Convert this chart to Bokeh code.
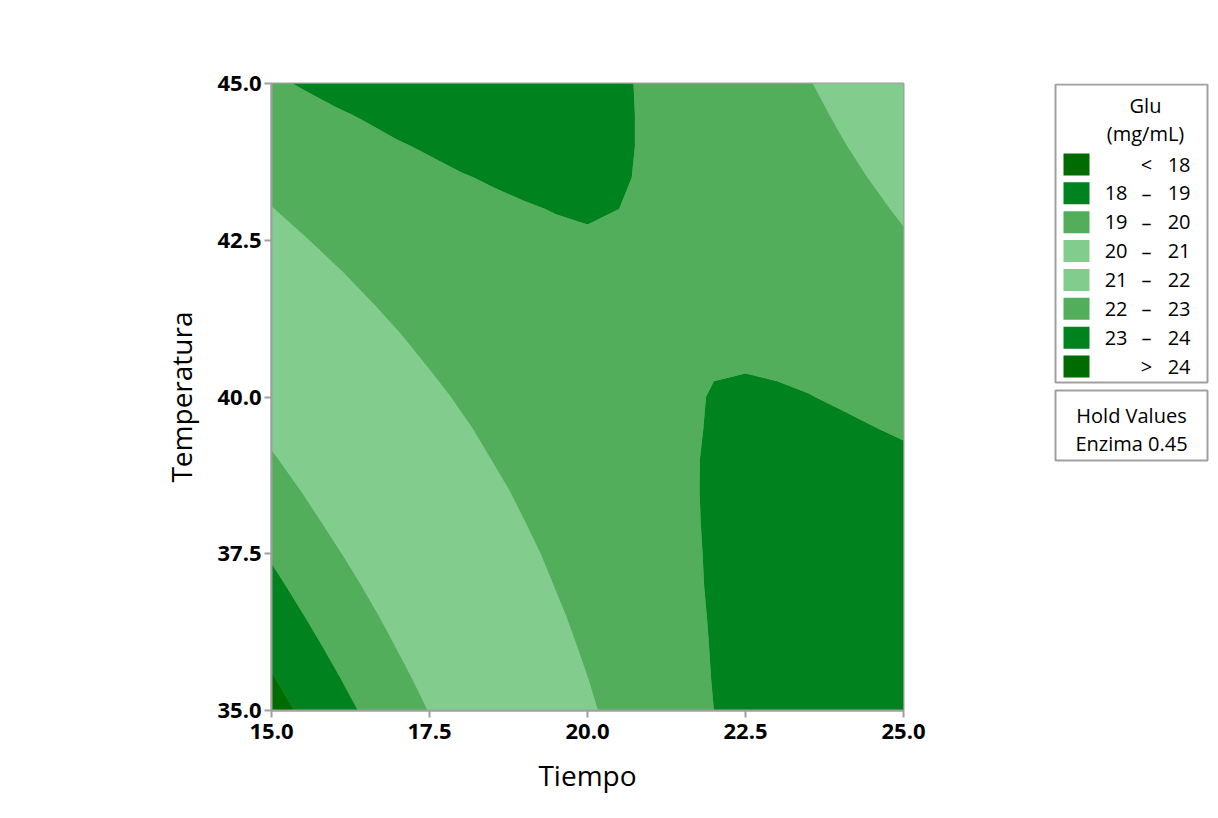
from bokeh.plotting import figure
from bokeh.layouts import row
from bokeh.models import Range1d, FixedTicker, NumeralTickFormatter
from bokeh.core.properties import value
from bokeh.embed import file_html
from bokeh.resources import INLINE

# ---------------- data ----------------
tiempo = [15.0, 15.5, 16.0, 16.5, 17.0, 17.5, 18.0, 18.5, 19.0, 19.5, 20.0,
          20.5, 21.0, 21.5, 22.0, 22.5, 23.0, 23.5, 24.0, 24.5, 25.0]
temperatura = [35.0, 35.5, 36.0, 36.5, 37.0, 37.5, 38.0, 38.5, 39.0, 39.5, 40.0,
               40.5, 41.0, 41.5, 42.0, 42.5, 43.0, 43.5, 44.0, 44.5, 45.0]
# Glu (mg/mL); one row per temperatura value, one column per tiempo value
glu = [
    [24.37, 23.85, 23.35, 22.87, 22.41, 21.97, 21.55, 21.16, 20.79, 20.43, 20.10, 19.80, 19.51, 19.24, 19.00, 18.78, 18.58, 18.40, 18.24, 18.10, 17.99],
    [24.07, 23.57, 23.09, 22.63, 22.19, 21.77, 21.37, 21.00, 20.65, 20.32, 20.01, 19.72, 19.45, 19.21, 18.98, 18.78, 18.60, 18.44, 18.30, 18.19, 18.09],
    [23.77, 23.29, 22.83, 22.39, 21.97, 21.57, 21.20, 20.84, 20.51, 20.20, 19.91, 19.64, 19.40, 19.17, 18.97, 18.79, 18.63, 18.49, 18.37, 18.27, 18.20],
    [23.48, 23.02, 22.58, 22.16, 21.76, 21.38, 21.03, 20.69, 20.38, 20.09, 19.82, 19.57, 19.35, 19.14, 18.96, 18.80, 18.66, 18.54, 18.44, 18.36, 18.31],
    [23.19, 22.75, 22.33, 21.93, 21.55, 21.19, 20.86, 20.55, 20.25, 19.98, 19.73, 19.51, 19.30, 19.11, 18.95, 18.81, 18.69, 18.59, 18.51, 18.46, 18.42],
    [22.91, 22.49, 22.08, 21.71, 21.35, 21.01, 20.70, 20.40, 20.13, 19.88, 19.65, 19.44, 19.26, 19.09, 18.95, 18.83, 18.73, 18.65, 18.59, 18.56, 18.54],
    [22.63, 22.22, 21.84, 21.48, 21.15, 20.83, 20.54, 20.26, 20.01, 19.78, 19.57, 19.38, 19.22, 19.07, 18.95, 18.85, 18.77, 18.71, 18.67, 18.66, 18.66],
    [22.35, 21.97, 21.61, 21.27, 20.95, 20.65, 20.38, 20.13, 19.89, 19.68, 19.49, 19.33, 19.18, 19.06, 18.95, 18.87, 18.81, 18.78, 18.76, 18.76, 18.79],
    [22.08, 21.71, 21.37, 21.05, 20.76, 20.48, 20.23, 19.99, 19.78, 19.59, 19.42, 19.28, 19.15, 19.05, 18.96, 18.90, 18.86, 18.84, 18.85, 18.87, 18.92],
    [21.81, 21.46, 21.14, 20.84, 20.57, 20.31, 20.08, 19.86, 19.67, 19.50, 19.35, 19.23, 19.12, 19.04, 18.98, 18.94, 18.92, 18.92, 18.94, 18.99, 19.05],
    [21.54, 21.22, 20.92, 20.64, 20.38, 20.15, 19.93, 19.74, 19.57, 19.42, 19.29, 19.18, 19.10, 19.03, 18.99, 18.97, 18.97, 18.99, 19.04, 19.10, 19.19],
    [21.28, 20.98, 20.70, 20.44, 20.20, 19.98, 19.79, 19.62, 19.47, 19.34, 19.23, 19.14, 19.08, 19.03, 19.01, 19.01, 19.03, 19.08, 19.14, 19.22, 19.33],
    [21.02, 20.74, 20.48, 20.24, 20.02, 19.83, 19.65, 19.50, 19.37, 19.26, 19.17, 19.11, 19.06, 19.04, 19.04, 19.06, 19.10, 19.16, 19.24, 19.35, 19.48],
    [20.76, 20.50, 20.26, 20.04, 19.85, 19.67, 19.52, 19.39, 19.28, 19.19, 19.12, 19.07, 19.05, 19.04, 19.06, 19.10, 19.16, 19.25, 19.35, 19.48, 19.62],
    [20.51, 20.27, 20.05, 19.85, 19.68, 19.52, 19.39, 19.28, 19.19, 19.12, 19.07, 19.04, 19.04, 19.06, 19.09, 19.15, 19.24, 19.34, 19.46, 19.61, 19.78],
    [20.26, 20.04, 19.84, 19.67, 19.51, 19.38, 19.26, 19.17, 19.10, 19.05, 19.02, 19.02, 19.03, 19.07, 19.13, 19.21, 19.31, 19.43, 19.58, 19.75, 19.93],
    [20.02, 19.82, 19.64, 19.48, 19.35, 19.23, 19.14, 19.07, 19.02, 18.99, 18.98, 19.00, 19.03, 19.09, 19.17, 19.27, 19.39, 19.53, 19.70, 19.88, 20.09],
    [19.78, 19.60, 19.44, 19.30, 19.19, 19.09, 19.02, 18.97, 18.94, 18.93, 18.94, 18.98, 19.03, 19.11, 19.21, 19.33, 19.47, 19.64, 19.82, 20.03, 20.26],
    [19.54, 19.38, 19.25, 19.13, 19.03, 18.96, 18.90, 18.87, 18.86, 18.88, 18.91, 18.96, 19.04, 19.14, 19.26, 19.40, 19.56, 19.74, 19.95, 20.18, 20.42],
    [19.31, 19.17, 19.05, 18.96, 18.88, 18.83, 18.79, 18.78, 18.79, 18.82, 18.88, 18.95, 19.05, 19.17, 19.31, 19.47, 19.65, 19.85, 20.08, 20.33, 20.59],
    [19.08, 18.96, 18.86, 18.79, 18.73, 18.70, 18.69, 18.69, 18.73, 18.78, 18.85, 18.95, 19.06, 19.20, 19.36, 19.54, 19.74, 19.97, 20.21, 20.48, 20.77],
]
glu_breaks = [18, 19, 20, 21, 22, 23, 24]
glu_low, glu_high = 17.0, 25.0
legend_labels = [("", "<", "18"), ("18", "–", "19"), ("19", "–", "20"), ("20", "–", "21"),
                 ("21", "–", "22"), ("22", "–", "23"), ("23", "–", "24"), ("", ">", "24")]
x_ticks = [15.0, 17.5, 20.0, 22.5, 25.0]
y_ticks = [35.0, 37.5, 40.0, 42.5, 45.0]
hold_lines = ["Hold Values", "Enzima 0.45"]

# ---------------- styling ----------------
band_colors = ["#006b00", "#00821e", "#52ae5a", "#82cd8e", "#82cd8e", "#52ae5a", "#00821e", "#006b00"]
FONT = "Open Sans"
GRAY = "#a0a0a0"

# merge neighbouring bands that share a colour (avoids seams)
all_levels = [glu_low] + glu_breaks + [glu_high]
fill_levels = [all_levels[0]]
fill_cols = []
for i, c in enumerate(band_colors):
    if fill_cols and fill_cols[-1] == c:
        fill_levels[-1] = all_levels[i + 1]
    else:
        fill_cols.append(c)
        fill_levels.append(all_levels[i + 1])

p = figure(width=1048, height=810, output_backend="svg", toolbar_location=None,
           x_range=Range1d(15, 25), y_range=Range1d(35, 45),
           min_border_left=271, min_border_right=145, min_border_top=83, min_border_bottom=100)
p.background_fill_color = "#52ae5a"
p.border_fill_color = "white"
p.contour(x=tiempo, y=temperatura, z=glu, levels=fill_levels, fill_color=fill_cols, line_color=None)
p.grid.visible = False
p.outline_line_color = GRAY
p.outline_line_width = 2
p.xaxis.ticker = FixedTicker(ticks=x_ticks)
p.yaxis.ticker = FixedTicker(ticks=y_ticks)
for ax in (p.xaxis[0], p.yaxis[0]):
    ax.formatter = NumeralTickFormatter(format="0.0")
    ax.axis_line_color = GRAY
    ax.axis_line_width = 2
    ax.major_tick_line_color = GRAY
    ax.major_tick_line_width = 2
    ax.major_tick_out = 7
    ax.major_tick_in = 0
    ax.minor_tick_out = 0
    ax.minor_tick_in = 0
    ax.major_label_text_font = FONT
    ax.major_label_text_font_style = "bold"
    ax.major_label_text_font_size = "22px"
    ax.major_label_text_color = "#000000"
    ax.axis_label_text_font = FONT
    ax.axis_label_text_font_style = "normal"
    ax.axis_label_text_font_size = "28px"
    ax.axis_label_text_color = "#000000"
p.xaxis.axis_label = "Tiempo"
p.yaxis.axis_label = "Temperatura"
p.xaxis.major_label_standoff = 6
p.yaxis.major_label_standoff = 3
p.xaxis.axis_label_standoff = 14
p.yaxis.axis_label_standoff = 14

# ---------------- legend panel (page pixel coordinates) ----------------
L = figure(width=162, height=810, output_backend="svg", toolbar_location=None,
           x_range=Range1d(1048, 1210), y_range=Range1d(710, 83),
           x_axis_location=None, y_axis_location=None,
           min_border_left=0, min_border_right=0, min_border_top=83, min_border_bottom=100)
L.grid.visible = False
L.outline_line_color = None
L.background_fill_color = "white"
L.border_fill_color = "white"
L.quad(left=[1055, 1055], right=[1207, 1207], top=[84, 390], bottom=[382, 460],
       fill_color="white", line_color=GRAY, line_width=2)
rows_y = [164 + i * 28.86 for i in range(len(legend_labels))]
L.rect(x=[1076] * len(rows_y), y=rows_y, width=26, height=22, fill_color=band_colors, line_color=None)
tf = value(FONT)
common = dict(text_baseline="middle", text_font=tf, text_font_size="20px", text_color="black")
L.text(x=[1145, 1145], y=[105, 133], text=["Glu", "(mg/mL)"], text_align="center", **common)
L.text(x=[1127] * len(rows_y), y=rows_y, text=[a for a, b, c in legend_labels], text_align="right", **common)
L.text(x=[1146] * len(rows_y), y=rows_y, text=[b for a, b, c in legend_labels], text_align="center", **common)
L.text(x=[1190] * len(rows_y), y=rows_y, text=[c for a, b, c in legend_labels], text_align="right", **common)
L.text(x=[1131, 1131], y=[415, 443], text=hold_lines, text_align="center", **common)

lay = row(p, L)
open("out.html", "w").write(file_html(lay, INLINE))
